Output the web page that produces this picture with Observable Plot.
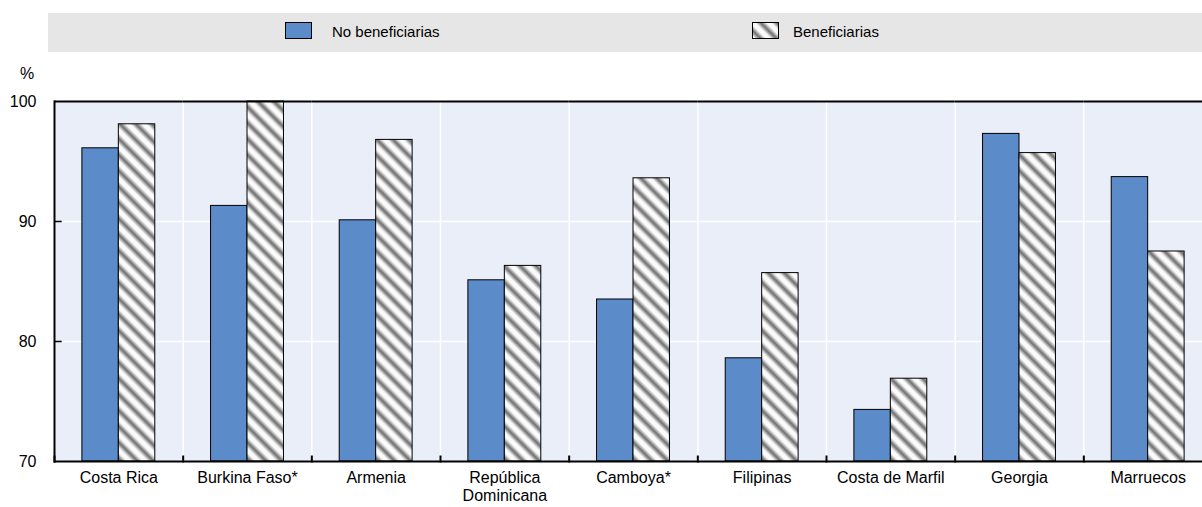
<!DOCTYPE html>
<html><head><meta charset="utf-8">
<script src="https://cdn.jsdelivr.net/npm/d3@7"></script>
<script src="https://cdn.jsdelivr.net/npm/@observablehq/plot@0.6"></script>
<style>
body{margin:0;background:#fff;font-family:"Liberation Sans",Arial,sans-serif;color:#000;}
#wrap{position:relative;width:1202px;height:507px;overflow:hidden;}
#legend{position:absolute;left:48px;top:13px;width:1154px;height:39px;background:#e6e6e6;}
.sw{position:absolute;top:9px;width:27px;height:17px;}
.lt{position:absolute;top:0;line-height:38px;font-size:15px;}
#pct{position:absolute;left:20px;top:65px;font-size:16px;}
#chart{position:absolute;left:0;top:60px;width:1212px;}
#chart svg{max-width:none !important;}
</style></head>
<body>
<svg width="0" height="0" style="position:absolute">
  <defs>
    <linearGradient id="hg" x1="0" x2="1" y1="0" y2="0">
      <stop offset="0" stop-color="#fbfbfb"/>
      <stop offset="0.15" stop-color="#fbfbfb"/>
      <stop offset="0.5" stop-color="#696969"/>
      <stop offset="0.85" stop-color="#fbfbfb"/>
      <stop offset="1" stop-color="#fbfbfb"/>
    </linearGradient>
    <pattern id="hatch" patternUnits="userSpaceOnUse" width="11.3" height="11.3" patternTransform="rotate(-45)">
      <rect x="0" y="0" width="11.3" height="11.3" fill="url(#hg)"/>
    </pattern>
  </defs>
</svg>
<div id="wrap">
  <div id="legend">
    <svg class="sw" style="left:237px" width="27" height="17"><rect x="0.5" y="0.5" width="26" height="16" fill="#5b8bc9" stroke="#000"/></svg>
    <div class="lt" style="left:284px">No beneficiarias</div>
    <svg class="sw" style="left:704px" width="27" height="17"><rect x="0.5" y="0.5" width="26" height="16" fill="url(#hatch)" stroke="#000"/></svg>
    <div class="lt" style="left:745px">Beneficiarias</div>
  </div>
  <div id="pct">%</div>
  <div id="chart"></div>
</div>
<script>
const countries = ["Costa Rica","Burkina Faso*","Armenia","República Dominicana","Camboya*","Filipinas","Costa de Marfil","Georgia","Marruecos"];
const countryLabels = ["Costa Rica","Burkina Faso*","Armenia","República\nDominicana","Camboya*","Filipinas","Costa de Marfil","Georgia","Marruecos"];
const noBeneficiarias = [96.1, 91.3, 90.1, 85.1, 83.5, 78.6, 74.3, 97.3, 93.7];
const beneficiarias = [98.1, 100.0, 96.8, 86.3, 93.6, 85.7, 76.9, 95.7, 87.5];
const series = ["No beneficiarias","Beneficiarias"];
const yTicks = [70, 80, 90, 100];
const gridTicks = [80, 90];

const data = countries.flatMap((c, i) => [
  {country: c, series: series[0], value: noBeneficiarias[i]},
  {country: c, series: series[1], value: beneficiarias[i]}
]);
const labelOf = new Map(countries.map((c, i) => [c, countryLabels[i]]));

const plot = Plot.plot({
  width: 1212, height: 447,
  marginLeft: 54, marginRight: 0, marginTop: 41, marginBottom: 46,
  style: {fontFamily: '"Liberation Sans",Arial,sans-serif', fontSize: "16px", color: "#000", background: "transparent", maxWidth: "none"},
  fx: {domain: countries, padding: 0, round: false, label: null},
  x: {domain: series, paddingInner: 0, paddingOuter: 0.765, round: false, axis: null},
  y: {domain: [70, 100], axis: null},
  marks: [
    Plot.frame({fill: "#e9eef8"}),
    Plot.ruleY(gridTicks, {stroke: "white", strokeWidth: 1.5}),
    Plot.frame({anchor: "left", stroke: "white", strokeWidth: 1.5}),
    Plot.barY(data.filter(d => d.series === series[0]), {fx: "country", x: "series", y1: 70, y2: "value", fill: "#5b8bc9", stroke: "#000", strokeWidth: 1}),
    Plot.barY(data.filter(d => d.series === series[1]), {fx: "country", x: "series", y1: 70, y2: "value", fill: "url(#hatch)", stroke: "#000", strokeWidth: 1}),
    Plot.ruleY([70, 100], {stroke: "#000", strokeWidth: 2}),
    Plot.frame({anchor: "left", stroke: "#000", strokeWidth: 2, insetTop: 355}),
    Plot.frame({anchor: "left", stroke: "#000", strokeWidth: 2, facetAnchor: "left"}),
    Plot.tickY(gridTicks, {stroke: "#000", strokeWidth: 1.5, insetRight: 121, facetAnchor: "left"}),
    Plot.axisY({ticks: yTicks, tickSize: 0, tickPadding: 18, label: null, facetAnchor: "left"}),
    Plot.axisFx({anchor: "bottom", tickSize: 0, tickPadding: 9, label: null, tickFormat: d => labelOf.get(d), lineHeight: 1.12})
  ]
});
document.getElementById("chart").appendChild(plot);
</script>
</body></html>
